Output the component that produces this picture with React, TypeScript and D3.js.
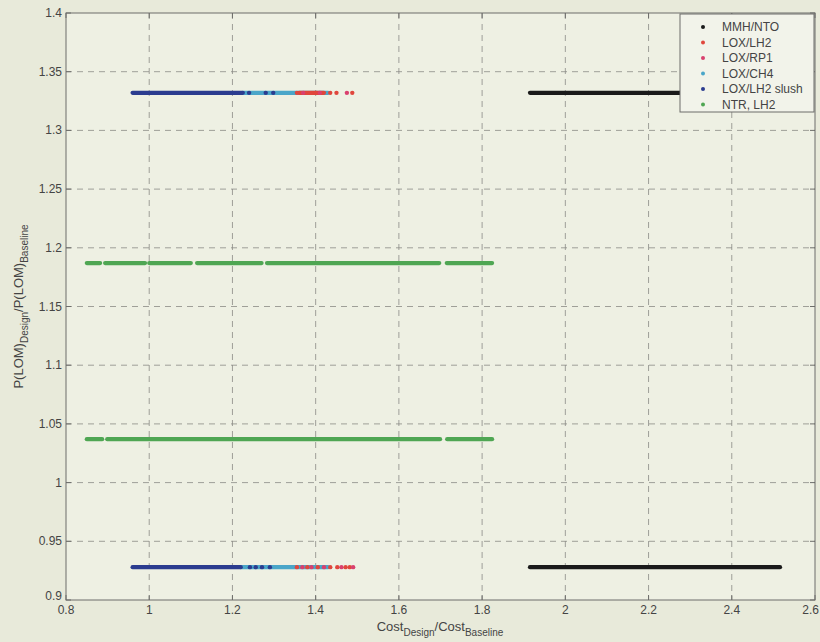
import React, { useEffect, useRef } from 'react';
import * as d3 from 'd3';

// series names + colours
const seriesNames = ['MMH/NTO', 'LOX/LH2', 'LOX/RP1', 'LOX/CH4', 'LOX/LH2 slush', 'NTR, LH2'];
const seriesColors = ['#1a1a1a', '#e0463c', '#d9406e', '#4aa6c9', '#2b3c8f', '#4fa653'];

const xTicks = [0.8, 1, 1.2, 1.4, 1.6, 1.8, 2, 2.2, 2.4, 2.6];
const yTicks = [0.9, 0.95, 1, 1.05, 1.1, 1.15, 1.2, 1.25, 1.3, 1.35, 1.4];

// dense runs of points: [series, y, xStart, xEnd]
const runs: [number, number, number, number][] = [
  [0, 1.332, 1.915, 2.52],
  [0, 0.928, 1.915, 2.516],
  [3, 1.332, 1.225, 1.43],
  [4, 1.332, 0.96, 1.225],
  [3, 0.928, 1.22, 1.43],
  [4, 0.928, 0.96, 1.22],
  [1, 1.332, 1.36, 1.42],
  [5, 1.187, 0.85, 0.882],
  [5, 1.187, 0.894, 0.99],
  [5, 1.187, 1.0, 1.1],
  [5, 1.187, 1.115, 1.27],
  [5, 1.187, 1.283, 1.697],
  [5, 1.187, 1.715, 1.824],
  [5, 1.037, 0.85, 0.887],
  [5, 1.037, 0.899, 1.699],
  [5, 1.037, 1.716, 1.824],
];

// single scattered points: [series, y, x]
const points: [number, number, number][] = [
  [4, 1.332, 1.24], [4, 1.332, 1.28], [4, 1.332, 1.298],
  [1, 1.332, 1.355], [2, 1.332, 1.37], [1, 1.332, 1.4], [2, 1.332, 1.41],
  [1, 1.332, 1.435], [1, 1.332, 1.45], [2, 1.332, 1.475], [1, 1.332, 1.488],
  [4, 0.928, 1.242], [4, 0.928, 1.256], [4, 0.928, 1.271], [4, 0.928, 1.29],
  [1, 0.928, 1.355], [2, 0.928, 1.368], [1, 0.928, 1.38], [2, 0.928, 1.39],
  [1, 0.928, 1.405], [2, 0.928, 1.42], [1, 0.928, 1.435], [1, 0.928, 1.452],
  [2, 0.928, 1.462], [1, 0.928, 1.472], [1, 0.928, 1.482], [2, 0.928, 1.49],
];

const App = () => {
  const svgRef = useRef<SVGSVGElement>(null);

  useEffect(() => {
    const W = 820, H = 642;
    const m = { left: 66, right: 5, top: 13, bottom: 42 };
    const svg = d3.select(svgRef.current).attr('width', W).attr('height', H);
    svg.selectAll('*').remove();

    const font = 'Liberation Sans, Arial, sans-serif';
    svg.append('rect').attr('width', W).attr('height', H).attr('fill', '#e8eada');

    const x = d3.scaleLinear().domain([0.8, 2.6]).range([m.left, W - m.right]);
    const y = d3.scaleLinear().domain([0.9, 1.4]).range([H - m.bottom, m.top]);

    const g = svg.append('g');
    g.append('rect')
      .attr('x', x(0.8)).attr('y', y(1.4))
      .attr('width', x(2.6) - x(0.8)).attr('height', y(0.9) - y(1.4))
      .attr('fill', '#eef0e3');

    // grid
    g.selectAll('.gx').data(xTicks.slice(1, -1)).enter().append('line')
      .attr('x1', d => x(d)).attr('x2', d => x(d))
      .attr('y1', y(1.4)).attr('y2', y(0.9))
      .attr('stroke', '#8a8a85').attr('stroke-width', 0.8).attr('stroke-dasharray', '6,5');
    g.selectAll('.gy').data(yTicks.slice(1, -1)).enter().append('line')
      .attr('y1', d => y(d)).attr('y2', d => y(d))
      .attr('x1', x(0.8)).attr('x2', x(2.6))
      .attr('stroke', '#8a8a85').attr('stroke-width', 0.8).attr('stroke-dasharray', '6,5');

    // runs
    g.selectAll('.run').data(runs).enter().append('line')
      .attr('x1', d => x(d[2])).attr('x2', d => x(d[3]))
      .attr('y1', d => y(d[1])).attr('y2', d => y(d[1]))
      .attr('stroke', d => seriesColors[d[0]])
      .attr('stroke-width', 4.2).attr('stroke-linecap', 'round');

    g.selectAll('.pt').data(points).enter().append('circle')
      .attr('cx', d => x(d[2])).attr('cy', d => y(d[1])).attr('r', 2.2)
      .attr('fill', d => seriesColors[d[0]]);

    // frame
    g.append('rect')
      .attr('x', x(0.8)).attr('y', y(1.4))
      .attr('width', x(2.6) - x(0.8)).attr('height', y(0.9) - y(1.4))
      .attr('fill', 'none').attr('stroke', '#6d6d6a').attr('stroke-width', 1);

    // inward ticks, all four sides
    const tl = 5;
    xTicks.forEach(t => {
      g.append('line').attr('x1', x(t)).attr('x2', x(t)).attr('y1', y(0.9)).attr('y2', y(0.9) - tl).attr('stroke', '#6d6d6a');
      g.append('line').attr('x1', x(t)).attr('x2', x(t)).attr('y1', y(1.4)).attr('y2', y(1.4) + tl).attr('stroke', '#6d6d6a');
    });
    yTicks.forEach(t => {
      g.append('line').attr('x1', x(0.8)).attr('x2', x(0.8) + tl).attr('y1', y(t)).attr('y2', y(t)).attr('stroke', '#6d6d6a');
      g.append('line').attr('x1', x(2.6)).attr('x2', x(2.6) - tl).attr('y1', y(t)).attr('y2', y(t)).attr('stroke', '#6d6d6a');
    });

    // tick labels
    g.selectAll('.xl').data(xTicks).enter().append('text')
      .attr('x', d => (d === 2.6 ? x(d) + 4 : x(d))).attr('y', y(0.9) + 14)
      .attr('text-anchor', d => (d === 2.6 ? 'end' : 'middle'))
      .attr('font-family', font).attr('font-size', 12).attr('fill', '#444')
      .text(d => d3.format('~g')(d));
    g.selectAll('.yl').data(yTicks).enter().append('text')
      .attr('x', x(0.8) - 4).attr('y', d => y(d) + (d === 0.9 ? 0 : 4))
      .attr('text-anchor', 'end').attr('font-family', font).attr('font-size', 12).attr('fill', '#444')
      .text(d => d3.format('~g')(d));

    // axis labels
    const xl = svg.append('text').attr('x', 440).attr('y', 631)
      .attr('text-anchor', 'middle').attr('font-family', font).attr('font-size', 13).attr('fill', '#444');
    xl.append('tspan').text('Cost');
    xl.append('tspan').attr('dy', 5).attr('font-size', 10).text('Design');
    xl.append('tspan').attr('dy', -5).text('/Cost');
    xl.append('tspan').attr('dy', 5).attr('font-size', 10).text('Baseline');

    const yl = svg.append('text').attr('transform', `translate(23,${(y(0.9) + y(1.4)) / 2}) rotate(-90)`)
      .attr('text-anchor', 'middle').attr('font-family', font).attr('font-size', 13).attr('fill', '#444');
    yl.append('tspan').text('P(LOM)');
    yl.append('tspan').attr('dy', 5).attr('font-size', 10).text('Design');
    yl.append('tspan').attr('dy', -5).text('/P(LOM)');
    yl.append('tspan').attr('dy', 5).attr('font-size', 10).text('Baseline');

    // legend
    const lx = 680, ly = y(1.4) + 1, lw = x(2.6) - 1 - lx, lh = 98;
    const leg = svg.append('g');
    leg.append('rect').attr('x', lx).attr('y', ly).attr('width', lw).attr('height', lh)
      .attr('fill', '#f2f3ea').attr('stroke', '#6d6d6a').attr('stroke-width', 1);
    seriesNames.forEach((n, i) => {
      const yy = ly + 13 + i * 15.5;
      leg.append('circle').attr('cx', lx + 23).attr('cy', yy).attr('r', 2).attr('fill', seriesColors[i]);
      leg.append('text').attr('x', lx + 42).attr('y', yy + 4)
        .attr('font-family', font).attr('font-size', 12).attr('fill', '#444').text(n);
    });
  }, []);

  return <svg ref={svgRef} style={{ position: 'absolute', left: 0, top: 0 }}></svg>;
};

export default App;
